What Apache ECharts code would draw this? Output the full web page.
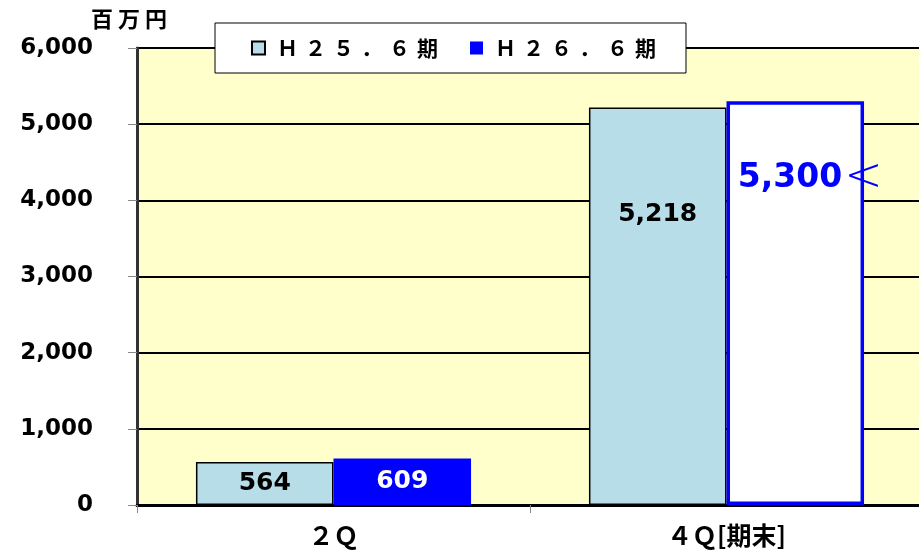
<!DOCTYPE html>
<html>
<head>
<meta charset="utf-8">
<script src="https://cdn.jsdelivr.net/npm/echarts@6/dist/echarts.min.js"></script>
<style>
  html, body { margin: 0; padding: 0; background: #fff; overflow: hidden; }
  /* プロット右端は画面外まで続く */
  #chart { width: 923px; height: 555px; }
</style>
</head>
<body>
<div id="chart"></div>
<script>
// データ
const categories = ['２Ｑ', '４Ｑ[期末]'];
const seriesNames = ['Ｈ２５．６期', 'Ｈ２６．６期'];
const valuesH25 = [564, 5218];
const valuesH26 = [609, 5300];
const yTicks = [0, 1000, 2000, 3000, 4000, 5000, 6000];

const numFont = 'DejaVu Sans';
const jpFont = 'Noto Sans CJK JP';

let chartDom = document.getElementById('chart');
let myChart = echarts.init(chartDom);

const fmt = (v) => Number(v).toLocaleString('en-US');

let option = {
  animation: false,
  backgroundColor: '#fff',
  title: {
    text: '百 万 円',
    left: 86,
    top: 3,
    textStyle: { fontFamily: jpFont, fontSize: 22, fontWeight: 'bold', color: '#000' }
  },
  legend: {
    left: 215,
    top: 23,
    padding: [12, 30, 12, 36],
    backgroundColor: '#fff',
    borderColor: '#000',
    borderWidth: 1,
    itemWidth: 13,
    itemHeight: 13,
    itemGap: 32,
    icon: 'rect',
    // 全角文字の字間を広げる
    formatter: (name) => '\u2004' + name.split('').join('\u2004'),
    textStyle: { fontFamily: jpFont, fontSize: 21, fontWeight: 'bold', color: '#000', lineHeight: 26 },
    data: seriesNames
  },
  grid: {
    left: 137,
    right: 0,
    top: 48,
    bottom: 50,
    show: true,
    backgroundColor: '#FFFFCC',
    borderColor: '#000',
    borderWidth: 2
  },
  xAxis: {
    type: 'category',
    data: categories,
    axisLine: { lineStyle: { color: '#000', width: 3 } },
    axisTick: { show: true, length: 8, lineStyle: { color: '#888', width: 1 } },
    axisLabel: {
      margin: 18,
      fontFamily: jpFont,
      fontSize: 25,
      fontWeight: 'bold',
      color: '#000'
    }
  },
  yAxis: {
    type: 'value',
    min: yTicks[0],
    max: yTicks[yTicks.length - 1],
    interval: 1000,
    axisLine: { show: true, lineStyle: { color: '#333', width: 3 } },
    axisTick: { show: true, length: 9, lineStyle: { color: '#888', width: 1 } },
    splitLine: { lineStyle: { color: '#000', width: 2 } },
    axisLabel: {
      margin: 44,
      fontFamily: numFont,
      fontSize: 23,
      fontWeight: 'bold',
      color: '#000',
      formatter: (v) => fmt(v)
    }
  },
  series: [
    {
      name: seriesNames[0],
      type: 'bar',
      barGap: '0%',
      barCategoryGap: '30%',
      itemStyle: { color: '#B7DDE8', borderColor: '#000', borderWidth: 1.5 },
      label: {
        show: true,
        position: 'inside',
        fontFamily: numFont,
        fontSize: 25,
        fontWeight: 'bold',
        color: '#000',
        formatter: (p) => fmt(p.value)
      },
      data: valuesH25.map((v, i) => i === 1
        ? { value: v, label: { position: 'insideTop', distance: 94 } }
        : v)
    },
    {
      name: seriesNames[1],
      type: 'bar',
      itemStyle: { color: '#0000FF' },
      label: {
        show: true,
        position: 'inside',
        fontFamily: numFont,
        fontSize: 25,
        fontWeight: 'bold',
        color: '#fff',
        formatter: (p) => fmt(p.value)
      },
      data: valuesH26.map((v, i) => i === 1
        ? {
            value: v,
            // 見込み値：白抜き
            itemStyle: { color: '#fff', borderColor: '#0000FF', borderWidth: 3.5 },
            label: {
              position: 'insideTop',
              distance: 54,
              offset: [15, 0],
              formatter: (p) => '{v|' + fmt(p.value) + '}{a|<}',
              rich: {
                v: { fontFamily: numFont, fontSize: 33, fontWeight: 'bold', color: '#0000FF' },
                a: { fontFamily: numFont, fontSize: 46, fontWeight: 200, color: '#0000FF', padding: [0, 0, 0, 2] }
              }
            }
          }
        : v)
    }
  ]
};

option && myChart.setOption(option);
</script>
</body>
</html>
